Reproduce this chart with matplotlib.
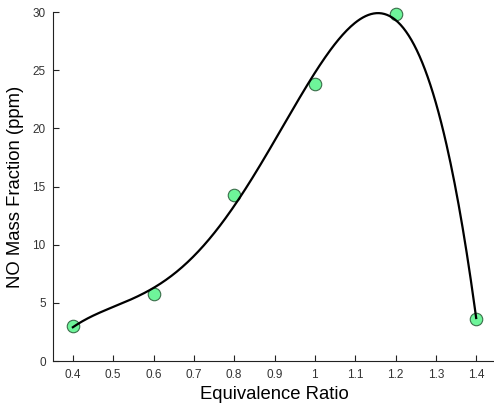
import numpy as np
import matplotlib
matplotlib.use("Agg")
import matplotlib.pyplot as plt

plt.rcParams['font.family'] = ['Liberation Sans', 'DejaVu Sans']

equiv_ratio = [0.4, 0.6, 0.8, 1.0, 1.2, 1.4]
no_ppm = [3.0, 5.8, 14.3, 23.8, 29.8, 3.6]
x_ticks = [0.4, 0.5, 0.6, 0.7, 0.8, 0.9, 1.0, 1.1, 1.2, 1.3, 1.4]
x_tick_labels = ['0.4', '0.5', '0.6', '0.7', '0.8', '0.9', '1', '1.1', '1.2', '1.3', '1.4']
y_ticks = [0, 5, 10, 15, 20, 25, 30]

fig = plt.figure(figsize=(4.94, 4.07), dpi=100)
ax = fig.add_axes([0.1067, 0.113, 0.898, 0.8575])

# smooth trend through the measurements (4th-order polynomial fit)
coef = np.polyfit(equiv_ratio, no_ppm, 4)
xs = np.linspace(min(equiv_ratio), max(equiv_ratio), 300)
ax.plot(equiv_ratio, no_ppm, 'o', ms=9, mfc='#6ef59a', mec='#3a6e4a', mew=0.8,
        zorder=2, clip_on=False)
ax.plot(xs, np.polyval(coef, xs), color='black', lw=1.6, zorder=3, clip_on=False)

ax.set_xlim(0.35, 1.45)
ax.set_ylim(0, 30)
ax.set_xticks(x_ticks)
ax.set_xticklabels(x_tick_labels)
ax.set_yticks(y_ticks)
for s in ['top', 'right']:
    ax.spines[s].set_visible(False)
for s in ['left', 'bottom']:
    ax.spines[s].set_color('#222222')
    ax.spines[s].set_linewidth(0.8)
ax.tick_params(direction='in', length=4, width=0.8, colors='#222222', labelsize=8.5, labelcolor='#333333')
ax.tick_params(axis='x', pad=6)
ax.tick_params(axis='y', pad=5)
ax.set_xlabel('Equivalence Ratio', fontsize=13.3, labelpad=3)
ax.set_ylabel('NO Mass Fraction (ppm)', fontsize=13.3, labelpad=6)

fig.savefig('out.png', dpi=100)
